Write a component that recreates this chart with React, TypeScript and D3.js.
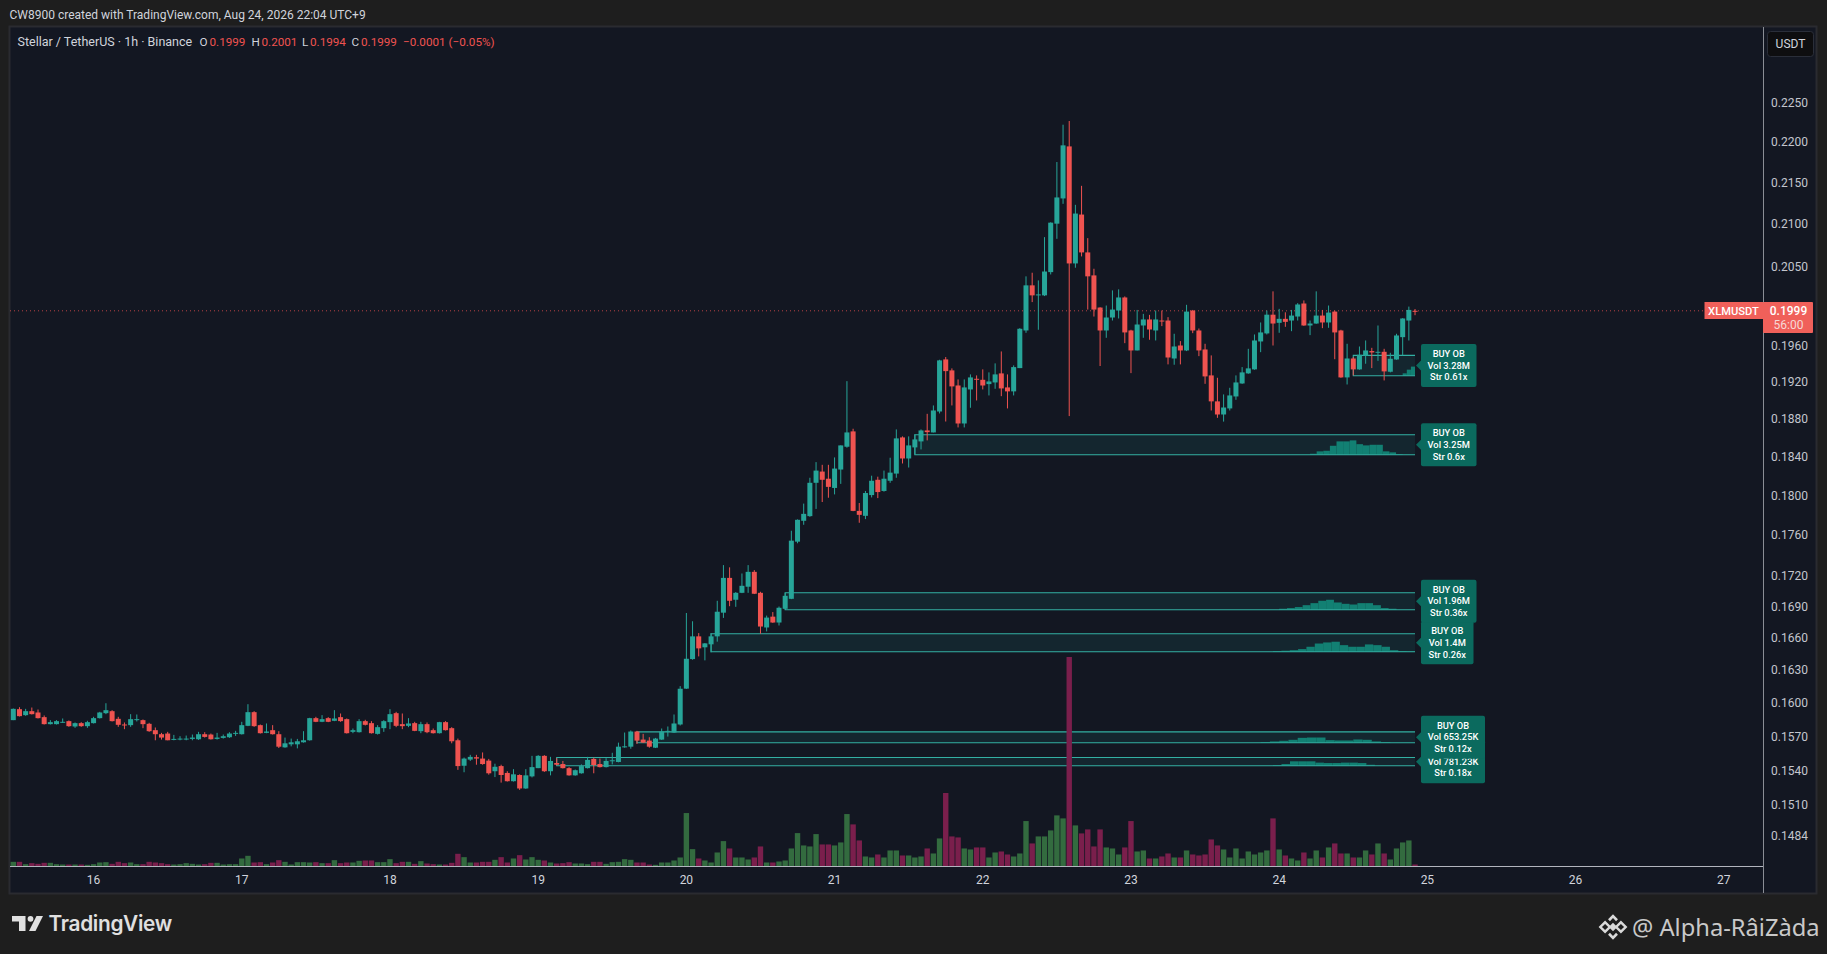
import React from 'react';
import * as d3 from 'd3';

// [open, high, low, close] per hour, first bar = 15 Aug 11:00
const ohlc: number[][] = [
[.15844,.15949,.15844,.15946],[.15943,.15961,.15877,.1588],[.15889,.15946,.15883,.15925],[.15925,.15958,.15895,.15898],[.15913,.1594,.15859,.15862],
[.15871,.15886,.15805,.15808],[.15808,.15844,.15805,.15826],[.15808,.15844,.15805,.15835],[.15823,.15859,.1582,.15829],[.15835,.15841,.15784,.1579],
[.15787,.15823,.15775,.15817],[.15817,.15826,.15784,.1579],[.1579,.15838,.15775,.15826],[.15817,.15874,.15814,.15862],[.15862,.15919,.15859,.15913],
[.15907,.15997,.15898,.15934],[.15925,.15934,.15832,.15835],[.15856,.15874,.15784,.15802],[.15805,.15823,.15763,.15799],[.15799,.15898,.15784,.15853],
[.15847,.15895,.15832,.15853],[.15844,.1585,.15772,.15808],[.15811,.1582,.15739,.15745],[.15754,.15778,.15664,.15718],[.15718,.1573,.1567,.15688],
[.15724,.15739,.15664,.15664],[.15673,.15712,.15664,.15676],[.15673,.157,.15664,.15679],[.15676,.15706,.15664,.15679],[.15676,.15715,.15664,.15688],
[.15673,.15739,.15667,.15718],[.15718,.15736,.15688,.15694],[.15715,.15724,.1567,.15673],[.15676,.1573,.1567,.15688],[.15685,.15715,.15679,.157],
[.15691,.15736,.15685,.15724],[.15727,.15748,.15703,.1573],[.15718,.15829,.15715,.15799],[.15793,.15988,.1579,.15916],[.15916,.15925,.15784,.1579],
[.15799,.15805,.15724,.15727],[.1573,.15814,.15727,.15742],[.15754,.15799,.15715,.15718],[.15718,.15745,.15595,.15607],[.15601,.15688,.15598,.15637],
[.15628,.15679,.1561,.15646],[.15628,.15676,.15592,.15655],[.15646,.15745,.15643,.15664],[.15664,.15865,.15661,.15862],[.15862,.15874,.15826,.15829],
[.15829,.15889,.15826,.15853],[.15862,.15871,.15826,.15829],[.15838,.15934,.15835,.15859],[.15871,.15904,.15829,.15835],[.15853,.15859,.15724,.15727],
[.15739,.15769,.15727,.15754],[.15736,.15853,.15733,.15835],[.15835,.15847,.15796,.15802],[.15817,.15835,.15724,.15727],[.15721,.15799,.15715,.15781],
[.15772,.15844,.15739,.15835],[.15826,.15943,.15763,.15898],[.15907,.15919,.15781,.15793],[.15808,.15904,.15763,.1579],[.15793,.15862,.15781,.15814],
[.15817,.15829,.15745,.15748],[.15745,.15829,.15727,.15808],[.15808,.15823,.15727,.15736],[.15754,.15769,.15724,.15727],[.15727,.15829,.15724,.15826],
[.15826,.15835,.15751,.15754],[.15772,.15781,.15637,.15655],[.15664,.15679,.15403,.15436],[.15439,.15511,.15382,.15502],[.15493,.15535,.15481,.15517],
[.15514,.15535,.15448,.15502],[.15502,.15556,.15448,.15454],[.15484,.15499,.15361,.15373],[.15391,.15457,.1534,.1543],[.15436,.15448,.15292,.15358],
[.15376,.15391,.15301,.15304],[.15304,.15409,.15301,.15364],[.15358,.15364,.15229,.15241],[.15241,.15409,.15238,.15355],[.15346,.15526,.15337,.15427],
[.15418,.15532,.15418,.15526],[.15526,.15532,.15385,.15391],[.15391,.15517,.15355,.15481],[.15463,.15505,.15442,.15448],[.15454,.15481,.15415,.15418],
[.15418,.15427,.15352,.15355],[.15355,.15406,.15352,.154],[.15373,.15451,.1537,.15436],[.15418,.15517,.15415,.1549],[.15499,.15511,.15373,.15445],
[.15454,.15502,.15424,.15427],[.15427,.15505,.15424,.15481],[.15481,.15553,.15451,.15487],[.15472,.15643,.15469,.15607],[.15601,.15733,.15598,.1561],
[.15607,.15751,.15589,.15742],[.15742,.15748,.15631,.15661],[.1567,.15721,.1564,.15643],[.15661,.15691,.15598,.15607],[.15598,.15685,.15595,.15679],
[.1567,.15769,.15667,.15742],[.15739,.15787,.15697,.15748],[.15733,.15895,.1573,.15814],[.15805,.16153,.15796,.16129],[.1613,.16838,.16127,.16406],
[.16403,.16759,.16397,.16616],[.16616,.16647,.16428,.16503],[.16513,.16553,.16391,.1655],[.16541,.16647,.16466,.16616],[.16616,.16955,.16566,.1685],
[.16841,.17302,.16791,.17177],[.17177,.1728,.16903,.16955],[.16965,.17039,.16897,.17032],[.17032,.1722,.17029,.171],[.17091,.17302,.17032,.17236],
[.17236,.17253,.1702,.17023],[.17032,.17042,.16641,.16709],[.167,.16813,.16663,.16794],[.16803,.16847,.16744,.16747],[.16747,.169,.16719,.16888],
[.16878,.17032,.16872,.17003],[.16974,.17643,.16971,.17544],[.17534,.17757,.17518,.17753],[.17743,.17917,.17703,.17813],[.1779,.18182,.17783,.1813],
[.1813,.18344,.17863,.18256],[.18246,.18316,.17933,.18161],[.18172,.18316,.17977,.18088],[.18077,.18393,.18011,.18277],[.18267,.18519,.18119,.18519],
[.18505,.19207,.18495,.18656],[.18667,.18695,.1784,.17843],[.17843,.17923,.17723,.17803],[.17793,.18046,.1776,.18025],[.18004,.18203,.1798,.18151],
[.18161,.18193,.17973,.18035],[.18046,.18256,.18039,.18172],[.18151,.1839,.1813,.18235],[.18225,.18688,.18182,.18593],[.18603,.18614,.1833,.18382],
[.18382,.18614,.18288,.18519],[.18498,.18635,.18425,.18582],[.18561,.18688,.18477,.18677],[.18677,.18854,.18572,.18659],[.18656,.18944,.18656,.1889],
[.18879,.19442,.18858,.19435],[.19446,.19472,.18772,.19317],[.19325,.19347,.18944,.1915],[.1916,.19226,.18709,.18751],[.18751,.19226,.18709,.19139],
[.19117,.19281,.18919,.19248],[.19233,.1927,.18998,.19226],[.19222,.19336,.19117,.1916],[.19175,.19303,.19052,.19204],[.19193,.19402,.19124,.19281],
[.19292,.19534,.19044,.19128],[.19139,.19281,.18912,.19096],[.19096,.1938,.19052,.19361],[.1935,.19794,.1935,.19787],[.19768,.20385,.19742,.20281],
[.20281,.20427,.20089,.20166],[.20173,.20338,.19776,.20177],[.20166,.20844,.20158,.20441],[.20434,.2102,.20407,.21016],[.21004,.21752,.20824,.21319],
[.21307,.22218,.21242,.21959],[.21946,.22265,.1883,.20535],[.20535,.2123,.20485,.21125],[.21113,.2146,.20617,.20664],[.20664,.20832,.20004,.20385],
[.20396,.20473,.19925,.20004],[.20027,.2003,.19373,.19768],[.19768,.2005,.19686,.19914],[.19914,.20223,.1988,.20004],[.19993,.20235,.19903,.20142],
[.20142,.20154,.19626,.19746],[.19768,.19776,.19295,.19545],[.19545,.2,.19545,.19835],[.19824,.19955,.19686,.19892],[.19892,.19944,.19664,.19779],
[.19768,.19993,.19656,.19892],[.1988,.19993,.19817,.19869],[.1988,.19918,.19391,.19467],[.19456,.19731,.19387,.19589],[.196,.19649,.19391,.19545],
[.19545,.20058,.19538,.19981],[.19993,.2,.19738,.19768],[.19768,.1979,.19482,.19545],[.19556,.19619,.19178,.19259],[.1927,.1949,.1889,.18988],
[.18988,.19244,.18811,.18847],[.18847,.19063,.18771,.18922],[.18912,.19135,.1889,.19052],[.19041,.1927,.19005,.19193],[.19182,.19361,.19178,.19303],
[.19292,.19563,.19288,.19347],[.19336,.19723,.19332,.19656],[.19645,.19858,.19526,.19746],[.19735,.19993,.19723,.19946],[.19946,.20212,.196,.19846],
[.19854,.20012,.19742,.19899],[.19899,.19973,.19809,.19865],[.1988,.2,.1976,.19936],[.19925,.20077,.1988,.20062],[.20073,.20108,.1982,.19824],
[.19824,.1988,.19716,.19846],[.19846,.20212,.19843,.19936],[.19936,.2,.19794,.19858],[.19858,.2005,.19798,.1997],[.19981,.19993,.19448,.19746],
[.19768,.19776,.19244,.19248],[.19248,.19619,.19171,.19456],[.19456,.19471,.1927,.19336],[.19336,.19589,.19332,.19497],[.19486,.19656,.19398,.19545],
[.19538,.19574,.1935,.19523],[.19526,.19824,.1943,.1953],[.1953,.19563,.19215,.19314],[.1931,.19519,.19303,.19453],[.19445,.19731,.19442,.19712],
[.19693,.19907,.1949,.19903],[.1988,.20038,.19656,.2],[.1999,.2001,.1994,.19989],
];

const volume: number[] = [
14,14,7,10,8,11,11,7,6,6,6,6,5,7,12,13,8,14,10,12,7,7,14,12,10,7,6,7,10,8,6,7,11,11,6,7,7,24,32,12,13,7,12,19,14,6,13,13,12,13,
10,10,19,10,12,12,17,18,18,13,13,22,10,14,14,8,16,9,7,6,6,11,38,28,12,12,14,14,20,28,12,24,34,21,28,20,18,12,9,10,13,9,9,7,14,14,8,13,14,22,
20,12,12,6,5,12,12,18,27,160,52,24,18,12,42,76,54,27,27,21,27,60,12,12,15,18,54,100,63,60,97,66,66,63,72,157,126,78,30,27,36,27,48,48,33,33,27,30,54,39,
84,220,90,87,54,51,57,57,27,42,45,36,30,39,136,69,90,90,108,153,144,627,123,99,111,60,111,57,54,36,57,136,45,48,24,24,30,39,27,27,48,36,33,36,81,63,51,27,54,24,
45,36,42,48,144,51,33,24,18,42,24,48,27,57,69,39,39,27,27,48,36,69,39,21,54,72,78,6,
];

const priceTicks = [0.225,0.22,0.215,0.21,0.205,0.196,0.192,0.188,0.184,0.18,0.176,0.172,0.169,0.166,0.163,0.16,0.157,0.154,0.151,0.1484];
const dateLabels = ['16','17','18','19','20','21','22','23','24','25','26','27'];
const dateBarIndex = [13,37,61,85,109,133,157,181,205,229,253,277];

const lastPrice = 0.1999;
const obTop = [0.15511,0.15739,0.1664,0.17032,0.18631,0.1949];
const obBottom = [0.15439,0.15642,0.16471,0.16869,0.18421,0.19266];
const obStart = [88,101,113,125,146,217];
const obLines = [
  ['BUY OB','Vol 781.23K','Str 0.18x'],
  ['BUY OB','Vol 653.25K','Str 0.12x'],
  ['BUY OB','Vol 1.4M','Str 0.26x'],
  ['BUY OB','Vol 1.96M','Str 0.36x'],
  ['BUY OB','Vol 3.25M','Str 0.6x'],
  ['BUY OB','Vol 3.28M','Str 0.61x'],
];
const obLabelWidth = [64,64,52.5,55.5,55.5,55.5];
// position of each profile inside its block, in bars, and the share of block height per bin
const obProfileFrom = [204,202,204,205,210,225];
const obProfileTo = [220.5,223,227,224,225,227];
const obProfile = [
  [.08,.21,.54,.54,.54,.38,.33,.33,.38,.38,.33,.12],
  [.06,.12,.18,.27,.45,.48,.48,.24,.21,.21,.3,.27,.12,.06],
  [.04,.06,.09,.15,.28,.46,.52,.56,.37,.28,.28,.41,.37,.28,.09,.04,.02],
  [.06,.1,.16,.27,.39,.53,.59,.43,.35,.31,.39,.39,.27,.1,.06],
  [.05,.17,.2,.45,.67,.67,.72,.53,.47,.5,.5,.17,.12,.03],
  [.12,.3,.45],
];

const UP = '#27a599';
const DOWN = '#ef5350';
const FONT = 'Roboto, sans-serif';

export default function App() {
  const x = d3.scaleLinear().domain([0, 229]).range([13.3, 13.3 + 229 * 6.175]);
  const y = d3.scaleLog().domain([0.154, 0.225]).range([770.2, 102.5]);
  const v = d3.scaleLinear().domain([0, d3.max(volume) as number]).range([866.5, 657]);
  const w = 5, vw = 5.4;
  const legend: [number, string, string][] = [
    [199.5,'O','#d1d4dc'],[209.5,'0.1999',DOWN],[251.5,'H','#d1d4dc'],[261.5,'0.2001',DOWN],
    [302,'L','#d1d4dc'],[310,'0.1994',DOWN],[351.5,'C','#d1d4dc'],[361,'0.1999',DOWN],[403,'−0.0001 (−0.05%)',DOWN],
  ];
  return (
    <svg width={1827} height={954} style={{position:'absolute',left:0,top:0,display:'block'}} fontFamily={FONT}>
      <rect width={1827} height={954} fill="#1e1e1e"/>
      <rect x={9.5} y={26.5} width={1807} height={867} fill="#131722" stroke="#2a2b30" strokeWidth={2}/>
      <text x={9.5} y={19} fontSize={12} fill="#d1d4dc">CW8900 created with TradingView.com, Aug 24, 2026 22:04 UTC+9</text>
      <text x={17.5} y={46} fontSize={12.5} fill="#d1d4dc">Stellar / TetherUS · 1h · Binance</text>
      {legend.map(([lx,t,c],i)=><text key={i} x={lx} y={46} fontSize={11.7} fill={c}>{t}</text>)}

      {/* order blocks */}
      {obTop.map((_,k)=>{
        const x0=x(obStart[k]), x1=x(227), t=y(obTop[k]), b=y(obBottom[k]);
        const p=obProfile[k];
        const bx=d3.scaleLinear().domain([0,p.length]).range([x(obProfileFrom[k]),x(obProfileTo[k])]);
        return <g key={k}>
          <rect x={x0} y={t} width={x1-x0} height={b-t} fill="#26a69a" fillOpacity={0.11}/>
          {p.map((f,j)=><rect key={j} x={bx(j)} y={b-f*(b-t)} width={bx(j+1)-bx(j)} height={f*(b-t)} fill="#12907f" fillOpacity={0.85}/>)}
          <path d={`M${x1},${t}H${x0}V${b}H${x1}`} fill="none" stroke="#33b0a3" strokeWidth={1.1}/>
        </g>;
      })}

      {/* volume */}
      {volume.map((d,i)=>{
        const c=ohlc[i];
        return <rect key={i} x={x(i)-vw/2} y={v(d)} width={vw} height={866.5-v(d)} fill={c[3]>=c[0]?'#336b3f':'#7a1f4c'}/>;
      })}

      {/* price line */}
      <line x1={10} x2={1763} y1={y(lastPrice)} y2={y(lastPrice)} stroke={DOWN} strokeWidth={1} strokeDasharray="1 3" strokeOpacity={0.75}/>

      {/* candles */}
      {ohlc.map(([o,h,l,c],i)=>{
        const col=c>=o?UP:DOWN, cx=x(i), top=y(Math.max(o,c)), bot=y(Math.min(o,c));
        return <g key={i}>
          <line x1={cx} x2={cx} y1={y(h)} y2={y(l)} stroke={col} strokeWidth={1}/>
          <rect x={cx-w/2} y={top} width={w} height={Math.max(1,bot-top)} fill={col}/>
        </g>;
      })}

      {/* order block labels */}
      {obTop.map((_,k)=>{
        const mid=(y(obTop[k])+y(obBottom[k]))/2, lx=1421, h=43, lw=obLabelWidth[k];
        return <g key={k}>
          <path d={`M${lx-5},${mid}L${lx},${mid-5}V${mid+5}Z`} fill="#0b6a5e"/>
          <rect x={lx} y={mid-h/2} width={lw} height={h} rx={2} fill="#0b6a5e"/>
          {obLines[k].map((t,j)=><text key={j} x={lx+lw/2} y={mid-8.6+j*11.7} fontSize={9.3} fontWeight={500} textAnchor="middle" fill="#ffffff">{t}</text>)}
        </g>;
      })}

      {/* axes */}
      <line x1={10} x2={1763} y1={866.5} y2={866.5} stroke="#b2b5be"/>
      <line x1={1763.5} x2={1763.5} y1={27} y2={893} stroke="#8a8d95"/>
      {priceTicks.map(p=><text key={p} x={1789.5} y={y(p)+4.3} fontSize={12} textAnchor="middle" fill="#c3c6ce">{p.toFixed(4)}</text>)}
      {dateLabels.map((d,i)=><text key={d} x={x(dateBarIndex[i])} y={884} fontSize={12} textAnchor="middle" fill="#d1d4dc">{d}</text>)}

      <rect x={1767.5} y={31.5} width={46} height={25} rx={3} fill="#0e0e10" stroke="#2a2e39"/>
      <text x={1790.5} y={48} fontSize={12} textAnchor="middle" fill="#d1d4dc">USDT</text>

      <rect x={1704.5} y={302} width={58.5} height={17} fill="#f0605a"/>
      <text x={1733.5} y={315} fontSize={11.2} fontWeight={500} textAnchor="middle" fill="#fff">XLMUSDT</text>
      <rect x={1763} y={302} width={50} height={31} rx={1} fill="#f0605a"/>
      <text x={1788.5} y={315} fontSize={12} fontWeight={500} textAnchor="middle" fill="#fff">0.1999</text>
      <text x={1788.5} y={329} fontSize={12} textAnchor="middle" fill="#f7d8d6">56:00</text>

      {/* TradingView mark */}
      <g fill="#e0e0e0">
        <path d="M12,916H25.5V931H19V921.5H12Z"/>
        <circle cx={30.5} cy={918.8} r={2.9}/>
        <path d="M36.5,916H43L35.5,931H29Z"/>
        <text x={48.5} y={931} fontFamily="Inter, sans-serif" fontSize={20.8} fontWeight={600} letterSpacing={-0.3}>TradingView</text>
      </g>
      {/* Binance mark */}
      <g transform="translate(1613,927) rotate(45)" fill="#d9d9d9">
        <rect x={-3} y={-3} width={6} height={6}/>
        <path d="M-9,-2V-9H-2V-6.3H-6.3V-2Z"/>
        <path d="M9,2V9H2V6.3H6.3V2Z"/>
        <rect x={2.2} y={-9} width={6.8} height={6.8} fill="none" stroke="#d9d9d9" strokeWidth={2.4}/>
        <rect x={-9} y={2.2} width={6.8} height={6.8} fill="none" stroke="#d9d9d9" strokeWidth={2.4}/>
      </g>
      <text x={1632} y={936} fontFamily="'Noto Sans', sans-serif" fontSize={23.7} fill="#c9c9c9">@ Alpha-RâiZàda</text>
    </svg>
  );
}
